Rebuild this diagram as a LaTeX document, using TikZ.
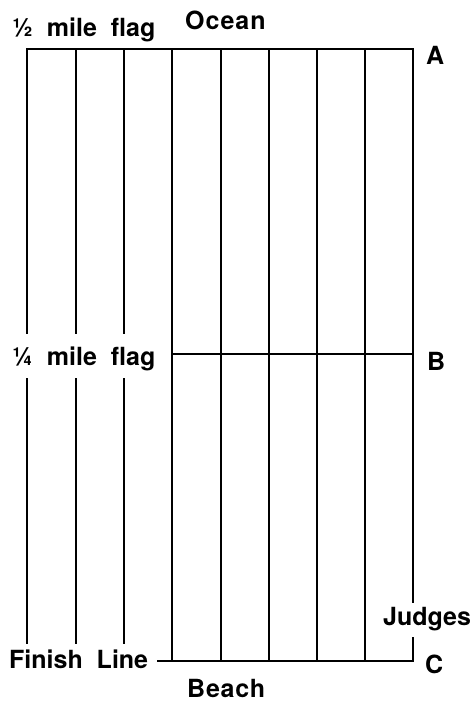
\documentclass[tikz,border=0pt]{standalone}
\usepackage{fontspec}
\setmainfont[WordSpace=2]{TeX Gyre Heros}
\begin{document}
\begin{tikzpicture}[x=1pt,y=-1pt,
  lane/.style={line width=1.6pt, line cap=rect},
  lbl/.style={font=\fontsize{25}{25}\selectfont\bfseries, inner sep=0pt, anchor=base west}]
\useasboundingbox (0,0) rectangle (475,701);
% top edge
\coordinate (tl) at (27,49);
\coordinate (tr) at (413,49);
\draw[lane] (tl) -- (tr);
% left lanes (broken at the 1/4 mile flag and ending above the finish line)
\foreach \x in {27,76,124}{
  \draw[lane] (\x,49) -- (\x,333);
  \draw[lane] (\x,379) -- (\x,643);
}
% middle lanes
\foreach \x in {172,221,269,317,365}{
  \draw[lane] (\x,49) -- (\x,661);
}
% right edge, broken for "Judges"
\coordinate (ra) at (413,49);
\coordinate (rj1) at (413,602);
\coordinate (rj2) at (413,638);
\coordinate (rc) at (413,661);
\draw[lane] (ra) -- (rj1);
\draw[lane] (rj2) -- (rc);
% B line
\coordinate (bl) at (172,354);
\coordinate (br) at (413,354);
\draw[lane] (bl) -- (br);
% bottom line
\coordinate (fl) at (158,661);
\draw[lane] (fl) -- (rc);
% labels
\node[lbl] (half) at (12,37) {½ mile flag};
\node[lbl] (ocean) at (185,30) {\addfontfeatures{LetterSpace=4}Ocean};
\node[lbl] (A) at (426,64) {A};
\node[lbl] (quarter) at (12,365) {¼ mile flag};
\node[lbl] (B) at (427,370) {B};
\node[lbl] (judges) at (383,625) {Judges};
\node[lbl] (finish) at (9,668) {Finish Line};
\node[lbl] (C) at (425,673) {C};
\node[lbl] (beach) at (187,697) {\addfontfeatures{LetterSpace=3}Beach};
\end{tikzpicture}
\end{document}
